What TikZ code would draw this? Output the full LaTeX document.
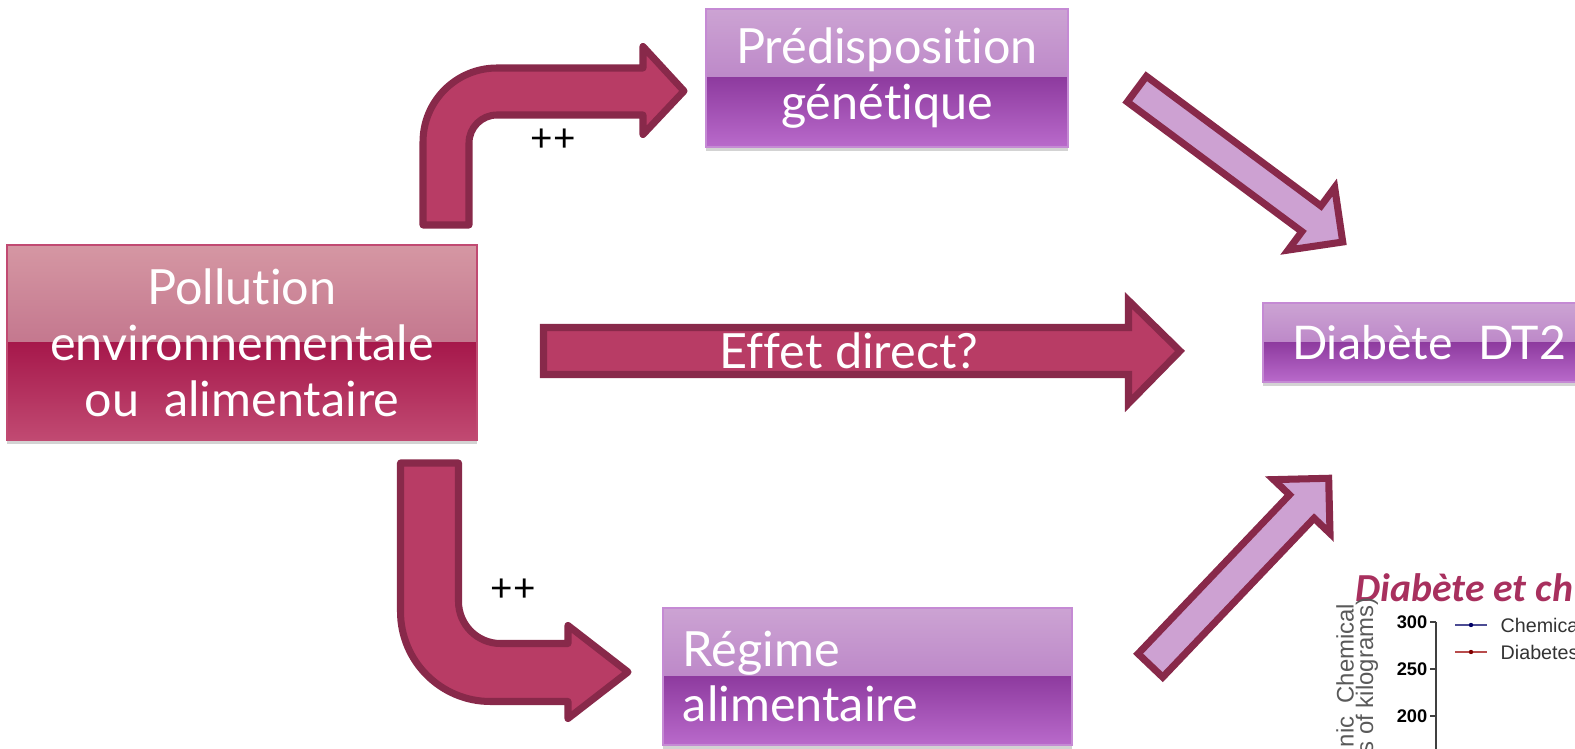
\documentclass[tikz,border=0pt]{standalone}
\usepackage{fontspec}
\setmainfont{Lato}[Ligatures={NoCommon}]
\newfontfamily\chartsans{Liberation Sans}
\newfontfamily\titlesans{Carlito}
\usepackage{tikz}
\usetikzlibrary{positioning,calc,shadows}
\definecolor{PinkTopA}{HTML}{D597A3}
\definecolor{PinkTopB}{HTML}{B3587A}
\definecolor{PinkBotA}{HTML}{A6184B}
\definecolor{PinkBotB}{HTML}{C14A72}
\definecolor{LilacTopA}{HTML}{CCA3D3}
\definecolor{LilacTopB}{HTML}{AE6EBE}
\definecolor{LilacBotA}{HTML}{8E3B9F}
\definecolor{LilacBotB}{HTML}{B96ACB}
\definecolor{LilacLine}{HTML}{C58AD4}
\definecolor{ArrowPink}{HTML}{B83C65}
\definecolor{ArrowLine}{HTML}{88294A}
\definecolor{ArrowLilac}{HTML}{CDA1D2}
\definecolor{TitlePink}{HTML}{A8305E}
\tikzset{
  boxtext/.style={text=white,font=\fontsize{13.8}{15.9}\selectfont,align=center},
  pinkbox/.style={boxtext,draw=PinkBotB,line width=0.4pt,
    drop shadow={shadow xshift=0pt,shadow yshift=-1pt,opacity=0.35},
    path picture={
      \shade[top color=PinkTopA,bottom color=PinkTopB]
        (path picture bounding box.north west) rectangle (path picture bounding box.east);
      \shade[top color=PinkBotA,bottom color=PinkBotB]
        (path picture bounding box.west) rectangle (path picture bounding box.south east);
    }},
  lilacbox/.style={boxtext,draw=LilacLine,line width=0.6pt,
    drop shadow={shadow xshift=0pt,shadow yshift=-1pt,opacity=0.35},
    path picture={
      \shade[top color=LilacTopA,bottom color=LilacTopB]
        (path picture bounding box.north west) rectangle (path picture bounding box.east);
      \shade[top color=LilacBotA,bottom color=LilacBotB]
        (path picture bounding box.west) rectangle (path picture bounding box.south east);
    }},
  bigarrow/.style={fill=ArrowPink,draw=ArrowLine,line width=2pt,line join=round},
  slantarrow/.style={fill=ArrowLilac,draw=ArrowLine,line width=2pt,line join=miter},
  plus/.style={font=\fontsize{11}{12}\selectfont},
  tick/.style={font=\chartsans\bfseries\fontsize{5.2}{6}\selectfont,anchor=east,inner sep=0pt},
  legend/.style={font=\chartsans\fontsize{5.6}{6}\selectfont,text=black!80,anchor=west,inner sep=0pt},
  ylab/.style={font=\chartsans\fontsize{6.8}{7}\selectfont,text=black!65,rotate=90,anchor=east,inner sep=0pt},
}

\begin{document}
\begin{tikzpicture}[x=0.01cm,y=-0.01cm]
\useasboundingbox (0,0) rectangle (1575,749);
\clip (0,0) rectangle (1575,749);

% boxes
\node[pinkbox,minimum width=4.7cm,minimum height=1.95cm] (pollution) at (242,342.5)
  {Pollution\\environnementale\\ou\ \ alimentaire};
\node[lilacbox,minimum width=3.62cm,minimum height=1.38cm] (genetique) at (887,78)
  {Prédisposition\\génétique};
\node[lilacbox,align=left,text width=3.69cm,inner xsep=0.2cm,minimum height=1.37cm] (regime) at (867.5,676.5)
  {Régime\\alimentaire};
\node[lilacbox,font=\fontsize{13.2}{15}\selectfont,align=left,text width=3.3cm,inner xsep=0.29cm,
  minimum height=0.79cm,anchor=west] (diabete) at (1262,342.5)
  {Diabète\hspace{0.55em}DT2};

% bent arrows
\draw[bigarrow] (423,225) -- (423,142) arc[start angle=180,end angle=270,radius=74]
  -- (643,68) -- (643,46.5) -- (684,91) -- (643,134.5) -- (643,115) -- (497,115)
  arc[start angle=270,end angle=180,radius=28] -- (469,225) -- cycle;
\node[plus] (plusup) at (553,140) {++};

\draw[bigarrow] (400.5,463) -- (400.5,611.5) arc[start angle=180,end angle=90,radius=90]
  -- (568,701.5) -- (568,718.5) -- (628,672) -- (568,625.5) -- (568,643.5) -- (500.5,643.5)
  arc[start angle=90,end angle=180,radius=42] -- (458.5,463) -- cycle;
\node[plus] (plusdown) at (513,590) {++};

% direct arrow
\draw[bigarrow,line join=miter] (543.5,327.5) -- (1128.5,327.5) -- (1128.5,300.5) -- (1180,351)
  -- (1128.5,403.5) -- (1128.5,374.5) -- (543.5,374.5) -- cycle;
\node[boxtext] (effet) at (849,351) {Effet direct?};

% slanted arrows to diabete
\begin{scope}[shift={(1134,87)},rotate=-36.6]
  \draw[slantarrow] (3.5,-16) -- (221,-16) -- (221,-39) -- (260,0) -- (221,39) -- (221,16) -- (3.5,16) -- cycle;
\end{scope}
\begin{scope}[shift={(1148,668)},rotate=46.4]
  \draw[slantarrow] (3.5,-17) -- (223,-17) -- (223,-39) -- (262,0) -- (223,39) -- (223,17) -- (3.5,17) -- cycle;
\end{scope}

% chart fragment
\node[font=\titlesans\bfseries\itshape\fontsize{11.3}{12}\selectfont,text=TitlePink,anchor=base west,inner sep=0pt]
  (charttitle) at (1355,602) {Diabète et ch};
\coordinate (axtop) at (1436,622);
\coordinate (axbot) at (1436,760);
\draw[black!75,line width=0.6pt] (axtop) -- (axbot);
\foreach \v/\y in {300/622,250/669,200/716}{
  \draw[black!75,line width=0.6pt] (1430,\y) -- (1436,\y);
  \node[tick] (t\v) at (1428,\y) {\v};
}
\draw[blue!40!black!70,line width=0.5pt] (1455,625) -- (1487,625);
\fill[blue!40!black] (1471,625) circle (2.2);
\node[legend] (lchem) at (1500,625) {Chemica};
\draw[red!60!black!70,line width=0.5pt] (1455,652) -- (1487,652);
\fill[red!50!black] (1471,652) circle (2.2);
\node[legend] (ldiab) at (1500,652) {Diabetes};
\node[ylab] (ylabA) at (1345,603) {nic\ \ Chemical};
\node[ylab] (ylabB) at (1367,597) {s of kilograms)};
\end{tikzpicture}
\end{document}
